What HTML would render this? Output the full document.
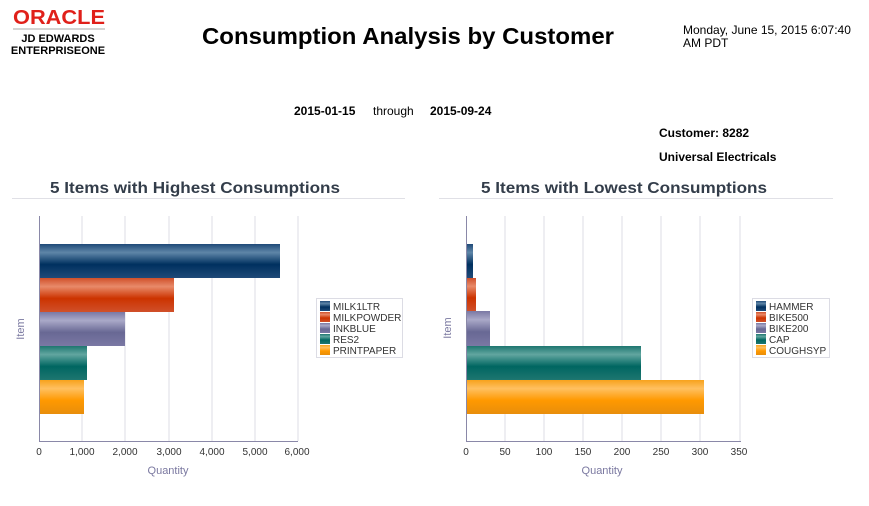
<!DOCTYPE html>
<html><head><meta charset="utf-8"><style>
body{margin:0;background:#fff;width:869px;height:501px;overflow:hidden;font-family:"Liberation Sans",sans-serif}
</style></head><body>
<svg width="869" height="501" xmlns="http://www.w3.org/2000/svg" font-family="Liberation Sans, sans-serif">
<defs>
<linearGradient id="gB" x1="0" y1="0" x2="0" y2="1"><stop offset="0" stop-color="#1f4a78"/><stop offset="0.25" stop-color="#5f86a8"/><stop offset="0.6" stop-color="#00305f"/><stop offset="1" stop-color="#1f4a78"/></linearGradient>
<linearGradient id="gR" x1="0" y1="0" x2="0" y2="1"><stop offset="0" stop-color="#d0502a"/><stop offset="0.25" stop-color="#e88a6a"/><stop offset="0.6" stop-color="#cc3300"/><stop offset="1" stop-color="#d0502a"/></linearGradient>
<linearGradient id="gP" x1="0" y1="0" x2="0" y2="1"><stop offset="0" stop-color="#7a78a4"/><stop offset="0.25" stop-color="#aaa9c8"/><stop offset="0.6" stop-color="#686894"/><stop offset="1" stop-color="#7a78a4"/></linearGradient>
<linearGradient id="gT" x1="0" y1="0" x2="0" y2="1"><stop offset="0" stop-color="#1e7670"/><stop offset="0.25" stop-color="#62a6a0"/><stop offset="0.6" stop-color="#006661"/><stop offset="1" stop-color="#1e7670"/></linearGradient>
<linearGradient id="gO" x1="0" y1="0" x2="0" y2="1"><stop offset="0" stop-color="#f7a21c"/><stop offset="0.25" stop-color="#ffc060"/><stop offset="0.6" stop-color="#ff9900"/><stop offset="1" stop-color="#e88e0c"/></linearGradient>
</defs>
<text x="13" y="24" font-size="20" font-weight="bold" fill="#e0201a" textLength="92" lengthAdjust="spacingAndGlyphs">ORACLE</text>
<line x1="13" y1="29" x2="105" y2="29" stroke="#aaa" stroke-width="1"/>
<text x="58" y="42" font-size="11" font-weight="bold" text-anchor="middle">JD EDWARDS</text>
<text x="58" y="54" font-size="11" font-weight="bold" text-anchor="middle">ENTERPRISEONE</text>
<text x="202" y="44" font-size="23" font-weight="bold" textLength="412" lengthAdjust="spacingAndGlyphs">Consumption Analysis by Customer</text>
<text x="683" y="34" font-size="12">Monday, June 15, 2015 6:07:40</text>
<text x="683" y="47" font-size="12">AM PDT</text>
<text x="294" y="115" font-size="12" font-weight="bold">2015-01-15</text>
<text x="373" y="115" font-size="12">through</text>
<text x="430" y="115" font-size="12" font-weight="bold">2015-09-24</text>
<text x="659" y="137" font-size="12" font-weight="bold">Customer:  8282</text>
<text x="659" y="161" font-size="12" font-weight="bold">Universal Electricals</text>
<text x="50" y="193" font-size="16" font-weight="bold" fill="#333d4a" textLength="290" lengthAdjust="spacingAndGlyphs">5 Items with Highest Consumptions</text>
<text x="481" y="193" font-size="16" font-weight="bold" fill="#333d4a" textLength="286" lengthAdjust="spacingAndGlyphs">5 Items with Lowest Consumptions</text>
<line x1="12" y1="198.5" x2="405" y2="198.5" stroke="#e0e0e6"/>
<line x1="439" y1="198.5" x2="833" y2="198.5" stroke="#e0e0e6"/>
<g stroke="#dcdce4">
<line x1="82" y1="216" x2="82" y2="441"/><line x1="125" y1="216" x2="125" y2="441"/><line x1="169" y1="216" x2="169" y2="441"/><line x1="212" y1="216" x2="212" y2="441"/><line x1="255" y1="216" x2="255" y2="441"/><line x1="298" y1="216" x2="298" y2="441"/>
<line x1="505" y1="216" x2="505" y2="441"/><line x1="544" y1="216" x2="544" y2="441"/><line x1="583" y1="216" x2="583" y2="441"/><line x1="622" y1="216" x2="622" y2="441"/><line x1="661" y1="216" x2="661" y2="441"/><line x1="700" y1="216" x2="700" y2="441"/><line x1="740" y1="216" x2="740" y2="441"/>
</g>
<rect x="39" y="244" width="241" height="34" fill="url(#gB)"/>
<rect x="39" y="278" width="135" height="34" fill="url(#gR)"/>
<rect x="39" y="312" width="86" height="34" fill="url(#gP)"/>
<rect x="39" y="346" width="48" height="34" fill="url(#gT)"/>
<rect x="39" y="380" width="45" height="34" fill="url(#gO)"/>
<rect x="466" y="244" width="7" height="34" fill="url(#gB)"/>
<rect x="466" y="278" width="10" height="33" fill="url(#gR)"/>
<rect x="466" y="311" width="24" height="35" fill="url(#gP)"/>
<rect x="466" y="346" width="175" height="34" fill="url(#gT)"/>
<rect x="466" y="380" width="238" height="34" fill="url(#gO)"/>
<g stroke="#8a88a8"><line x1="39.5" y1="216" x2="39.5" y2="441"/><line x1="39" y1="441.5" x2="298" y2="441.5"/><line x1="466.5" y1="216" x2="466.5" y2="441"/><line x1="466" y1="441.5" x2="741" y2="441.5"/></g>
<g font-size="10" fill="#333" text-anchor="middle">
<text x="39" y="455">0</text><text x="82" y="455">1,000</text><text x="125" y="455">2,000</text><text x="169" y="455">3,000</text><text x="212" y="455">4,000</text><text x="255" y="455">5,000</text><text x="297" y="455">6,000</text>
<text x="466" y="455">0</text><text x="505" y="455">50</text><text x="544" y="455">100</text><text x="583" y="455">150</text><text x="622" y="455">200</text><text x="661" y="455">250</text><text x="700" y="455">300</text><text x="739" y="455">350</text>
</g>
<text x="168" y="474" font-size="11" fill="#7a78a0" text-anchor="middle">Quantity</text>
<text x="602" y="474" font-size="11" fill="#7a78a0" text-anchor="middle">Quantity</text>
<text transform="translate(24,329) rotate(-90)" font-size="11" fill="#7a78a0" text-anchor="middle">Item</text>
<text transform="translate(451,328) rotate(-90)" font-size="11" fill="#7a78a0" text-anchor="middle">Item</text>
<rect x="316.5" y="298.5" width="86" height="59" fill="#fff" stroke="#dcdce4"/>
<g font-size="10" fill="#333">
<rect x="320" y="301" width="10" height="10" fill="url(#gB)"/><text x="333" y="310">MILK1LTR</text>
<rect x="320" y="312" width="10" height="10" fill="url(#gR)"/><text x="333" y="321">MILKPOWDER</text>
<rect x="320" y="323" width="10" height="10" fill="url(#gP)"/><text x="333" y="332">INKBLUE</text>
<rect x="320" y="334" width="10" height="10" fill="url(#gT)"/><text x="333" y="343">RES2</text>
<rect x="320" y="345" width="10" height="10" fill="url(#gO)"/><text x="333" y="354">PRINTPAPER</text>
</g>
<rect x="752.5" y="298.5" width="77" height="59" fill="#fff" stroke="#dcdce4"/>
<g font-size="10" fill="#333">
<rect x="756" y="301" width="10" height="10" fill="url(#gB)"/><text x="769" y="310">HAMMER</text>
<rect x="756" y="312" width="10" height="10" fill="url(#gR)"/><text x="769" y="321">BIKE500</text>
<rect x="756" y="323" width="10" height="10" fill="url(#gP)"/><text x="769" y="332">BIKE200</text>
<rect x="756" y="334" width="10" height="10" fill="url(#gT)"/><text x="769" y="343">CAP</text>
<rect x="756" y="345" width="10" height="10" fill="url(#gO)"/><text x="769" y="354">COUGHSYP</text>
</g>
</svg>
</body></html>
